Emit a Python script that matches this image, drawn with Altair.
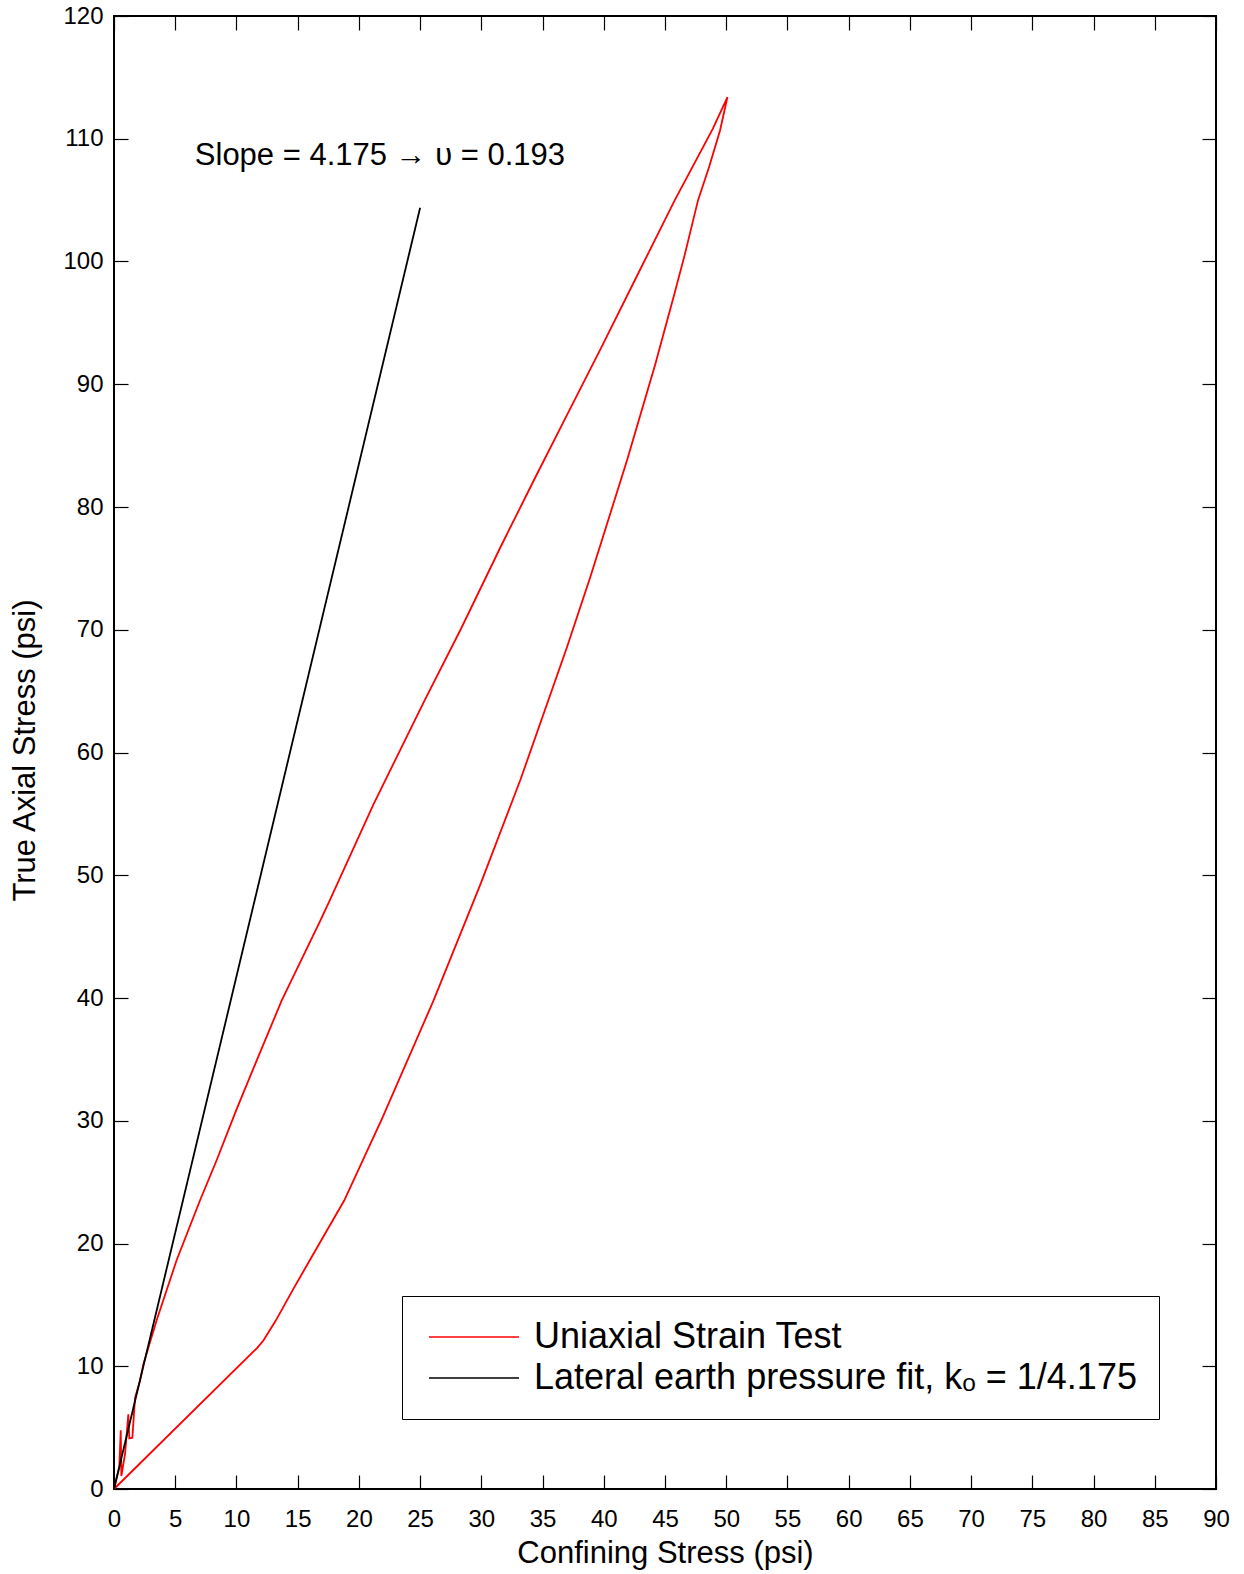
import altair as alt
import pandas as pd

# ---------------- data ----------------
series_names = ["Uniaxial Strain Test", "Lateral earth pressure fit, kₒ = 1/4.175"]

# loading branch of the uniaxial strain test
load_x = [0, 0.22, 0.43, 0.55, 0.6, 0.9, 1.17, 1.25, 1.5, 1.72, 2.12, 2.4, 3.49, 5.12,
          7.02, 8.39, 10.0, 11.65, 13.7, 16.8, 17.64, 21.2, 23.77, 25.4, 28.3, 31.5,
          34.3, 37.0, 39.7, 42.8, 45.8, 48.9, 50.1]
load_y = [0, 0.92, 1.74, 4.78, 1.06, 2.83, 6.09, 4.13, 4.18, 7.44, 8.8, 10.16, 13.77, 18.66,
          23.5, 26.8, 30.9, 34.9, 39.8, 46.2, 48.0, 55.8, 61.0, 64.3, 70.0, 76.6,
          82.2, 87.5, 92.8, 99.0, 105.0, 110.8, 113.4]

# unloading branch of the uniaxial strain test
unload_x = [49.5, 48.6, 47.7, 46.6, 45.7, 44.2, 41.9, 38.9, 37.0, 33.2, 29.9, 26.1, 21.9,
            18.8, 16.0, 14.65, 13.2, 12.2, 11.7, 0]
unload_y = [110.7, 107.7, 105.0, 100.5, 97.1, 91.6, 83.8, 74.3, 68.6, 57.8, 49.2, 39.8, 30.2,
            23.5, 18.66, 16.3, 13.7, 12.1, 11.5, 0]

# lateral earth pressure fit (slope 4.175)
fit_x = [0, 25]
fit_y = [0, 104.375]

x_ticks = list(range(0, 91, 5))
y_ticks = list(range(0, 121, 10))

note_text = ["Slope = 4.175 → υ = 0.193"]
note_x = [6.6]
note_y = [108.6]

# ---------------- tables ----------------
test_x = load_x + unload_x
test_y = load_y + unload_y
rows = []
for i, (a, b) in enumerate(zip(test_x, test_y)):
    rows.append({"series": series_names[0], "x": a, "y": b, "i": i})
for i, (a, b) in enumerate(zip(fit_x, fit_y)):
    rows.append({"series": series_names[1], "x": a, "y": b, "i": i})
df = pd.DataFrame(rows)
note_df = pd.DataFrame({"x": note_x, "y": note_y, "t": note_text})

W, H = 1102, 1473
FONT = "Liberation Sans"

xs = alt.Scale(domain=[0, 90], nice=False, zero=False)
ys = alt.Scale(domain=[0, 120], nice=False, zero=False)

main_x_axis = alt.Axis(orient="bottom", values=x_ticks, ticks=False, domain=False, grid=False,
                       labelFontSize=24, labelPadding=18, labelFlush=False, labelColor="black",
                       labelFont=FONT, title="Confining Stress (psi)", titleFontSize=31,
                       titleFont=FONT, titleFontWeight="normal", titleColor="black",
                       titleBaseline="middle", titleY=64)
main_y_axis = alt.Axis(orient="left", values=y_ticks, ticks=False, domain=False, grid=False,
                       labelFontSize=24, labelPadding=11, labelColor="black", labelFont=FONT,
                       title="True Axial Stress (psi)", titleFontSize=31, titleFont=FONT,
                       titleFontWeight="normal", titleColor="black", titleBaseline="middle",
                       titleX=-89, titleY=734)

legend = alt.Legend(orient="none", legendX=288, legendY=1280, title=None,
                    strokeColor="black", fillColor="white", padding=22,
                    labelFontSize=36, labelFont=FONT, labelColor="black", labelLimit=1000,
                    symbolType="stroke", symbolSize=8100, symbolStrokeWidth=1.5,
                    symbolOffset=4, labelOffset=14, rowPadding=3, clipHeight=38)

lines = alt.Chart(df).mark_line(strokeWidth=1.8).encode(
    x=alt.X("x:Q", scale=xs, axis=main_x_axis),
    y=alt.Y("y:Q", scale=ys, axis=main_y_axis),
    color=alt.Color("series:N", scale=alt.Scale(domain=series_names, range=["#ff0000", "#000000"]),
                    legend=legend),
    detail="series:N",
    order="i:Q",
)


def tick_layer(x_orient, y_orient):
    return alt.Chart(df).mark_point(opacity=0).encode(
        x=alt.X("x:Q", scale=xs, axis=alt.Axis(orient=x_orient, offset=-H, values=x_ticks,
                                               labels=False, ticks=True, tickSize=14,
                                               tickColor="black", tickWidth=1.2,
                                               domain=False, grid=False, title=None)),
        y=alt.Y("y:Q", scale=ys, axis=alt.Axis(orient=y_orient, offset=-W, values=y_ticks,
                                               labels=False, ticks=True, tickSize=14,
                                               tickColor="black", tickWidth=1.2,
                                               domain=False, grid=False, title=None)),
    )


ticks_a = tick_layer("top", "right")     # lands on bottom / left edges, pointing inward
ticks_b = tick_layer("bottom", "left")   # lands on top / right edges, pointing inward

note = alt.Chart(note_df).mark_text(align="left", baseline="middle", fontSize=31, font=FONT,
                                    color="black").encode(
    x=alt.X("x:Q", scale=xs, axis=None),
    y=alt.Y("y:Q", scale=ys, axis=None),
    text="t:N",
)

chart = alt.layer(lines, ticks_a, ticks_b, note).resolve_axis(
    x="independent", y="independent"
).properties(
    width=W, height=H,
    padding={"left": 114, "top": 16, "right": 28, "bottom": 85},
    autosize=alt.AutoSizeParams(type="none"),
    background="white",
).configure_view(stroke="black", strokeWidth=2)

chart.save("out.html", embed_options={"renderer": "svg", "actions": False})
